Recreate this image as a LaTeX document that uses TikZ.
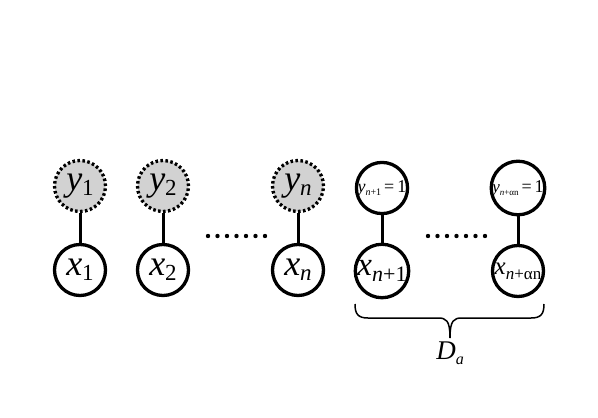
\documentclass[tikz,border=0pt]{standalone}
\usepackage{fontspec}
\setmainfont{Liberation Serif}
\newcommand\vsub[5]{{\fontsize{#1}{#1}\selectfont\itshape #2}\raisebox{-#5pt}{\fontsize{#3}{#3}\selectfont #4}}
\begin{document}
\begin{tikzpicture}[x=1pt,y=-1pt,
  var/.style={circle,draw,line width=3.3pt,minimum size=51pt,inner sep=0pt},
  obs/.style={circle,draw,dash pattern=on 2.6pt off 2.4pt,line width=3.3pt,fill=gray!35,minimum size=51pt,inner sep=0pt},
  link/.style={line width=3pt},
  dotmark/.style={circle,fill=black,inner sep=0pt,minimum size=4.4pt}]
\path[use as bounding box] (0,0) rectangle (598,418);
% observed y
\node[obs] (y1) at (80,186) {\vsub{36}{y}{23}{1}{5}};
\node[obs] (y2) at (163,186) {\vsub{36}{y}{23}{2}{5}};
\node[obs] (yn) at (298,186) {\vsub{36}{y}{23}{\itshape n}{5}};
\node[var] (ya) at (382,188) {\vsub{18}{y}{10}{\itshape n\upshape+1}{3}\fontsize{18}{18}\selectfont\,=\,1};
\node[var] (yb) at (518,188) {\vsub{17}{y}{9}{\itshape n\upshape+αn}{3}\fontsize{18}{18}\selectfont\,=\,1};
% x
\node[var] (x1) at (80,270) {\vsub{36}{x}{23}{1}{5}};
\node[var] (x2) at (163,270) {\vsub{36}{x}{23}{2}{5}};
\node[var] (xn) at (298,270) {\vsub{36}{x}{23}{\itshape n}{5}};
\node[var] (xa) at (382,271) {\vsub{33}{x}{22}{\itshape n\upshape+1}{6}};
\node[var] (xb) at (518,271) {\vsub{25}{x}{17}{\itshape n\upshape+αn}{5}};
% links
\draw[link] (y1) -- (x1);
\draw[link] (y2) -- (x2);
\draw[link] (yn) -- (xn);
\draw[link] (ya) -- (xa);
\draw[link] (yb) -- (xb);
% dots
\foreach \i in {0,...,6} {
  \node[dotmark] (da\i) at (208+9.5*\i,236) {};
  \node[dotmark] (db\i) at (428+9.5*\i,236) {};
}
% brace
\coordinate (bl) at (355,304);
\coordinate (br) at (544,304);
\coordinate (bt) at (450,338);
\draw[line width=1.5pt]
  (bl) .. controls (355,314) and (358,318) .. (368,318) -- (438,318)
  .. controls (446,318) and (450,320) .. (bt)
  .. controls (450,320) and (454,318) .. (462,318) -- (531,318)
  .. controls (541,318) and (544,314) .. (br);
\node (Da) at (450,353) {\vsub{27}{D}{16}{\itshape a}{5}};
\end{tikzpicture}
\end{document}
